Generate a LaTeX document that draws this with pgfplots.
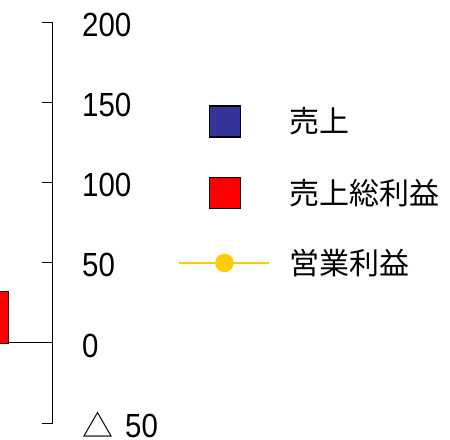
\documentclass[border=0pt]{standalone}
\usepackage{pgfplots}
\pgfplotsset{compat=1.18}
\usepackage{fontspec}
\setmainfont{Liberation Sans}
\newfontfamily\cjk{Noto Sans CJK JP}
\newfontfamily\digits[FakeStretch=0.88]{Liberation Sans}
\definecolor{uriage}{RGB}{51,51,153}
\definecolor{sorieki}{RGB}{255,0,0}
\definecolor{eigyo}{RGB}{255,204,0}

\begin{document}
\begin{tikzpicture}[font=\fontsize{30bp}{36bp}\selectfont]
\begin{axis}[
  at={(0,0)}, anchor=south west,
  scale only axis, width=53bp, height=400bp,
  xmin=0, xmax=53, ymin=-50, ymax=200,
  axis y line=right, axis x line=middle,
  x axis line style={-}, y axis line style={-},
  axis line style={line width=1bp, black},
  xtick=\empty,
  ytick={-50,0,50,100,150,200},
  yticklabels={{\fontsize{31bp}{36bp}\cjk\smash{△}}\hspace{12bp}50,0,50,100,150,200},
  tick align=inside, major tick length=11bp,
  tick style={line width=1bp, black},
  yticklabel style={font=\fontsize{33.5bp}{40bp}\digits, anchor=base west,
    inner sep=0pt, xshift=29bp, yshift=-14bp},
  legend style={at={(3.358,0.796)}, anchor=north west, draw=none, fill=none,
    inner sep=0pt, row sep=39bp, column sep=19bp,
    nodes={inner sep=0pt, text height=26bp, text depth=3bp}},
  legend cell align=left,
]
% 売上 (off to the left of this crop)
\addplot[ybar, bar width=36, bar shift=0pt, fill=uriage, draw=black,
  legend image code/.code={\draw[fill=uriage, draw=black, line width=1.8bp] (30bp,-15.5bp) rectangle (61bp,15.5bp);}]
  coordinates {(-45,150)};
% 売上総利益
\addplot[ybar, bar width=36, bar shift=0pt, fill=sorieki, draw=black!80!red, line width=0.8bp,
  legend image code/.code={\draw[fill=sorieki, draw=black, line width=1.8bp] (30bp,-15.5bp) rectangle (61bp,15.5bp);}]
  coordinates {(-10,32)};
% 営業利益
\addplot[eigyo, line width=2.5bp, mark=*, mark size=8bp, mark options={fill=eigyo, draw=eigyo, line width=0pt},
  legend image code/.code={\draw[eigyo, line width=2.5bp] (0bp,0bp) -- (90bp,0bp);
    \fill[eigyo] (45bp,0bp) circle (8bp);}]
  coordinates {(-40,15) (-20,15)};
\legend{{\cjk 売上},{\cjk 売上総利益},{\cjk 営業利益}}
\end{axis}
\pgfresetboundingbox
\path (0,-17bp) rectangle (450bp,423bp);
\end{tikzpicture}
\end{document}
